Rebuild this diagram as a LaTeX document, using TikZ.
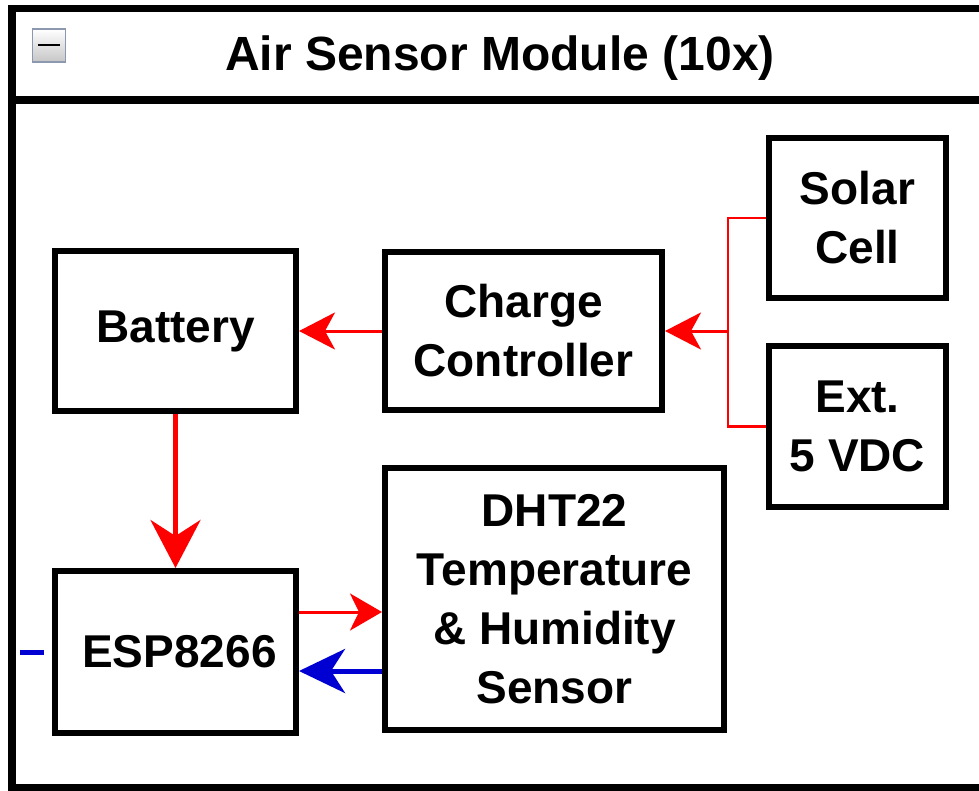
\documentclass[tikz,border=0pt]{standalone}
\usepackage{fontspec}
\setmainfont{Liberation Sans}
\usepackage{xcolor}
\usepackage{tikz}
\usetikzlibrary{positioning,arrows.meta}
\definecolor{pwrred}{RGB}{255,0,0}
\definecolor{sigblue}{RGB}{0,0,210}
\definecolor{iconedge}{RGB}{140,152,175}
\tikzset{
  box/.style={draw, line width=6pt, inner sep=0pt, align=center, font=\fontsize{46}{59}\selectfont\bfseries},
  frm/.style={draw, line width=7.5pt},
  pwr/.style={draw=pwrred, line width=3pt, -{Stealth[length=36pt, width=37pt, inset=10pt]}},
  feed/.style={draw=pwrred, line width=5pt, -{Stealth[length=48pt, width=50pt, inset=16pt]}},
  wire/.style={draw=pwrred, line width=2.5pt},
  tx/.style={draw=pwrred, line width=3pt, -{Stealth[length=32pt, width=37pt, inset=9pt]}},
  rx/.style={draw=sigblue, line width=5pt, -{Stealth[length=46pt, width=44pt, inset=14pt]}},
}
\begin{document}
\begin{tikzpicture}[x=1pt, y=-1pt]
\clip (0,0) rectangle (979,791);
\fill[white] (0,0) rectangle (979,791);
% module frame and header
\draw[frm] (12,8.5) rectangle (1000,788);
\draw[frm] (12,100) -- (1000,100);
\node[draw=iconedge, line width=1.5pt, top color=white, bottom color=gray!45, minimum width=33pt, minimum height=33pt, inner sep=0pt] (icon) at (49,45.5) {};
\draw[line width=2pt] ([xshift=-11pt]icon.center) -- ([xshift=11pt]icon.center);
\node[font=\fontsize{48}{58}\selectfont\bfseries] (title) at (500,58) {Air Sensor Module (10x)};
% blocks
\node[box, minimum width=241pt, minimum height=159pt] (bat) at (175.5,331) {Battery};
\node[box, minimum width=277pt, minimum height=158pt] (chg) at (523.5,331) {Charge\\Controller};
\node[box, minimum width=177pt, minimum height=160pt] (sol) at (857.5,218) {Solar\\Cell};
\node[box, minimum width=177pt, minimum height=161pt] (ext) at (857.5,426.5) {Ext.\\5 VDC};
\node[box, minimum width=241pt, minimum height=162pt] (esp) at (175.5,652) {\hspace{8pt}ESP8266};
\node[box, minimum width=339pt, minimum height=262pt] (dht) at (554.5,599) {DHT22\\Temperature\\\& Humidity\\Sensor};
% power
\coordinate[right=63pt of chg.east] (jn);
\draw[wire] (sol.west) -| (jn) |- (ext.west);
\draw[pwr] (jn) -- (chg.east);
\draw[pwr] (chg.west) -- (bat.east);
\draw[feed] (bat.south) -- (esp.north);
% data
\draw[tx] ([yshift=40pt]esp.east) -- ([yshift=40pt]esp.east -| dht.west);
\draw[rx] ([yshift=-19pt]esp.east -| dht.west) -- ([yshift=-19pt]esp.east);
\coordinate (lnka) at (20,652);
\coordinate (lnkb) at (44,652);
\draw[draw=sigblue, line width=5pt] (lnka) -- (lnkb);
\end{tikzpicture}
\end{document}
